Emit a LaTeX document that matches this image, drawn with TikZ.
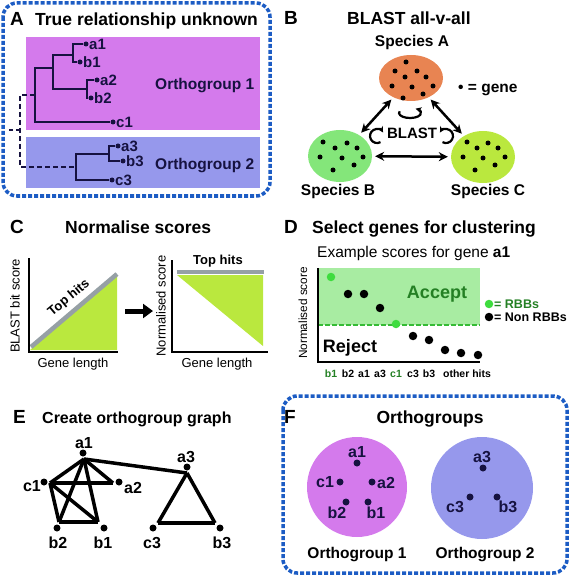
\documentclass[tikz,border=0pt]{standalone}
\usepackage{fontspec}
\setmainfont{Liberation Sans}
\usetikzlibrary{arrows.meta, shapes.geometric, calc}

\definecolor{panelblue}{RGB}{28,92,196}
\definecolor{ogone}{RGB}{212,122,236}
\definecolor{ogtwo}{RGB}{150,152,236}
\definecolor{treeink}{RGB}{22,18,64}
\definecolor{orangeA}{RGB}{232,132,82}
\definecolor{greenB}{RGB}{132,230,122}
\definecolor{limeC}{RGB}{186,232,62}
\definecolor{topgray}{RGB}{150,160,165}
\definecolor{acceptbg}{RGB}{168,236,162}
\definecolor{rbbgreen}{RGB}{62,220,62}
\definecolor{darkgreen}{RGB}{36,128,36}

\begin{document}
\begin{tikzpicture}[
      x=1pt, y=-1pt, >=Stealth,
      panel/.style={draw=panelblue, line width=3.5pt, dash pattern=on 4pt off 2pt, rounded corners=14pt},
      letter/.style={font=\bfseries\fontsize{19}{22}\selectfont, anchor=base west, inner sep=0},
      ttl/.style={font=\bfseries\fontsize{17.5}{20}\selectfont, anchor=base west, inner sep=0},
      sub/.style={font=\bfseries\fontsize{15.5}{18}\selectfont, anchor=base, inner sep=0},
      leaf/.style={circle, fill=treeink, inner sep=0, minimum size=5pt},
      leaflab/.style={font=\bfseries\fontsize{15}{17}\selectfont, text=treeink, anchor=west, inner sep=1pt},
      tree/.style={line width=2pt, draw=treeink},
      gene/.style={circle, fill=black, inner sep=0, minimum size=5pt},
      species/.style={ellipse, minimum width=64pt, inner sep=0},
      dbl/.style={{Stealth[length=9pt,width=9pt]}-{Stealth[length=9pt,width=9pt]}, line width=2.5pt, shorten <=3pt, shorten >=3pt},
      self/.style={-{Stealth[length=6pt,width=6pt]}, line width=2.2pt},
      axis/.style={line width=2.5pt},
      axlab/.style={font=\fontsize{13}{15}\selectfont, inner sep=0},
      score/.style={circle, fill=black, inner sep=0, minimum size=8.5pt},
      rbb/.style={score, fill=rbbgreen},
      tick/.style={font=\bfseries\fontsize{10.5}{12}\selectfont, anchor=base, inner sep=0},
      vtx/.style={circle, fill=black, inner sep=0, minimum size=7pt},
      edge/.style={line width=3.5pt},
      vlab/.style={font=\bfseries\fontsize{16}{18}\selectfont, inner sep=0}
    ]
    \useasboundingbox (0,0) rectangle (570,577);

    % --- Panel A: true relationship ---
    \draw[panel] (3,3) rectangle (270,196);
    \node[letter] (labA) at (10,26) {A};
    \node[ttl] (ttlA) at (35,26) {True relationship unknown};
    \fill[ogone] (26,37) rectangle (260,130);
    \fill[ogtwo] (26,137) rectangle (260,188);
    \node[sub, anchor=base west, text=treeink] (og1A) at (155,90) {Orthogroup 1};
    \node[sub, anchor=base west, text=treeink] (og2A) at (155,170) {Orthogroup 2};

    \foreach \n/\x/\y in {a1/86/44, b1/80/62, a2/97/80, b2/91/98, c1/113/122,
                          a3/118/146, b3/123/161, c3/112/180}
      \node[leaf] (t\n) at (\x,\y) {};
    \foreach \n in {a1,b1,a2,b2,c1,a3,b3,c3}
      \node[leaflab] at ($(t\n)+(2,0)$) {\n};

    \coordinate (p1) at (73,55);
    \coordinate (p2) at (87,89);
    \coordinate (p3) at (53,68);
    \coordinate (p4) at (35,95);
    \coordinate (p5) at (109,154);
    \coordinate (p6) at (76,167);
    \coordinate (p7) at (20,130);
    \coordinate (p8) at (8,130);

    \draw[tree] (ta1) -| (p1) |- (tb1);
    \draw[tree] (ta2) -| (p2) |- (tb2);
    \draw[tree] (p1) -| (p3) |- (p2);
    \draw[tree] (p3) -| (p4) |- (tc1);
    \draw[tree] (ta3) -| (p5) |- (tb3);
    \draw[tree] (p5) -| (p6) |- (tc3);
    \draw[tree, dash pattern=on 5pt off 3pt] (p4) -| (p7) |- (p6);
    \draw[tree, dash pattern=on 4pt off 3pt] (p7) -- (p8);

    % --- Panel B: BLAST all-v-all ---
    \node[letter] (labB) at (284,25) {B};
    \node[ttl] (ttlB) at (347,25) {BLAST all-v-all};
    \node[species, fill=orangeA, minimum height=46pt] (spA) at (411,78) {};
    \node[species, fill=greenB, minimum height=52pt] (spB) at (340,156) {};
    \node[species, fill=limeC, minimum height=52pt] (spC) at (483,157) {};
    \node[sub] (nameA) at (412,47) {Species A};
    \node[sub] (nameB) at (338,196) {Species B};
    \node[sub] (nameC) at (488,196) {Species C};
    \node[sub, anchor=base west] (key) at (458,93) {\textbullet\ = gene};
    \node[sub, font=\bfseries\fontsize{15}{17}\selectfont] (blast) at (412,139) {BLAST};

    \foreach \x/\y in {406/62, 395/71, 417/71, 405/77, 426/77, 392/86, 412/87, 433/86, 423/94, 403/98}
      \node[gene] at (\x,\y) {};
    \foreach \x/\y in {323/142, 347/143, 335/148, 357/148, 320/157, 342/158, 363/157, 354/165, 333/170}
      \node[gene] at (\x,\y) {};
    \foreach \x/\y in {467/142, 488/143, 477/148, 498/148, 463/157, 483/158, 505/157, 495/165, 475/170}
      \node[gene] at (\x,\y) {};

    \draw[dbl] (spA) -- (spB);
    \draw[dbl] (spA) -- (spC);
    \draw[dbl] (spB) -- (spC);

    \coordinate (loopA) at (399.7,111.3);
    \coordinate (loopB) at (380.5,142.1);
    \coordinate (loopC) at (442.5,142.1);
    \draw[self] (loopA) arc[start angle=160, end angle=420, x radius=11pt, y radius=5pt];
    \draw[self] (loopB) arc[start angle=-60, end angle=-330, radius=7pt];
    \draw[self] (loopC) arc[start angle=240, end angle=510, radius=7pt];

    % --- Panel C: normalise scores ---
    \node[letter] (labC) at (10,233) {C};
    \node[ttl] (ttlC) at (65,233) {Normalise scores};

    \fill[limeC] (30,350) -- (117,350) -- (117,275) -- cycle;
    \draw[topgray, line width=4.5pt] (31,347) -- (117,274);
    \draw[axis] (29,258) -- (29,352) -- (118,352);
    \node[axlab, rotate=90] (yC1) at (15,306) {BLAST bit score};
    \node[axlab, anchor=base] (xC1) at (73,367) {Gene length};
    \node[axlab, font=\bfseries\fontsize{13}{15}\selectfont, rotate=40] (topC1) at (69,298) {Top hits};

    \coordinate (arrS) at (125,311);
    \coordinate (arrE) at (153,311);
    \draw[-{Triangle[length=10pt,width=14pt]}, line width=5pt] (arrS) -- (arrE);

    \fill[limeC] (177,275) -- (263,275) -- (263,346) -- cycle;
    \draw[topgray, line width=4.5pt] (177,272) -- (264,272);
    \draw[axis] (172,260) -- (172,352) -- (268,352);
    \node[axlab, rotate=90] (yC2) at (161,306) {Normalised score};
    \node[axlab, anchor=base] (xC2) at (217,367) {Gene length};
    \node[axlab, font=\bfseries\fontsize{13}{15}\selectfont, anchor=base] (topC2) at (218,264) {Top hits};

    % --- Panel D: select genes ---
    \node[letter] (labD) at (284,233) {D};
    \node[ttl] (ttlD) at (312,233) {Select genes for clustering};
    \node[anchor=base west, inner sep=0, font=\fontsize{15.5}{18}\selectfont] (exD) at (317,257) {Example scores for gene \textbf{a1}};

    \fill[acceptbg] (318,268) rectangle (480,325);
    \draw[rbbgreen!85!black, line width=2.5pt, dash pattern=on 5pt off 2pt] (318,325) -- (480,325);
    \draw[axis] (318,268) -- (318,362) -- (480,362);
    \node[inner sep=0, rotate=90, font=\fontsize{11.8}{14}\selectfont] (yD) at (303,313) {Normalised score};
    \node[inner sep=0, anchor=base, font=\bfseries\fontsize{18}{21}\selectfont, text=darkgreen] (acc) at (437,298) {Accept};
    \node[inner sep=0, anchor=base, font=\bfseries\fontsize{18}{21}\selectfont] (rej) at (350,352) {Reject};

    \node[rbb]   (sb1) at (331,277) {};
    \node[score] (sb2) at (348,294) {};
    \node[score] (sa1) at (364,294) {};
    \node[score] (sa3) at (380,308) {};
    \node[rbb]   (sc1) at (396,324) {};
    \node[score] (sc3) at (413,336) {};
    \node[score] (sb3) at (429,340) {};
    \node[score] (so1) at (445,350) {};
    \node[score] (so2) at (461,353) {};
    \node[score] (so3) at (478,355) {};

    \node[tick, text=darkgreen] at (331,377) {b1};
    \node[tick] at (348,377) {b2};
    \node[tick] at (364,377) {a1};
    \node[tick] at (380,377) {a3};
    \node[tick, text=darkgreen] at (396,377) {c1};
    \node[tick] at (413,377) {c3};
    \node[tick] at (429,377) {b3};
    \node[tick] at (467,377) {other hits};

    \node[rbb]   (keyR) at (489,304) {};
    \node[score] (keyN) at (489,317) {};
    \node[inner sep=0, anchor=base west, font=\bfseries\fontsize{12.5}{14}\selectfont, text=darkgreen] at (494,308) {= RBBs};
    \node[inner sep=0, anchor=base west, font=\bfseries\fontsize{12.5}{14}\selectfont] at (494,321) {= Non RBBs};

    % --- Panel E: orthogroup graph ---
    \node[letter] (labE) at (13,423) {E};
    \node[ttl, font=\bfseries\fontsize{16}{18}\selectfont] (ttlE) at (42,423) {Create orthogroup graph};

    \foreach \n/\x/\y/\ex/\ey/\lx/\ly in {a1/83/453/84/459/84/443, c1/44/482/50/483/32/486,
        a2/119/482/113/483/133/488, b2/57/528/59/522/58/543, b1/104/528/98/522/103/543,
        a3/187/467/187/473/186/457, c3/153/528/158/523/152/543, b3/220/528/215/523/222/543}
    {
      \node[vtx] (v\n) at (\x,\y) {};
      \coordinate (e\n) at (\ex,\ey);
      \node[vlab] at (\lx,\ly) {\n};
    }
    \foreach \u/\v in {a1/c1, a1/a2, c1/a2, a1/b2, a1/b1, c1/b2, c1/b1, b2/b1,
                       a1/a3, a3/c3, a3/b3, c3/b3}
      \draw[edge] (e\u) -- (e\v);

    % --- Panel F: orthogroups ---
    \draw[panel] (283,396) rectangle (567,573);
    \node[letter] (labF) at (284,423) {F};
    \node[ttl, anchor=base] (ttlF) at (430,423) {Orthogroups};
    \node[circle, fill=ogone, minimum size=100pt, inner sep=0] (og1) at (357,487) {};
    \node[circle, fill=ogtwo, minimum size=102pt, inner sep=0] (og2) at (482,488) {};
    \node[sub] (og1F) at (357,558) {Orthogroup 1};
    \node[sub] (og2F) at (485,558) {Orthogroup 2};

    \foreach \n/\x/\y/\lx/\ly in {a1/357/463/357/452, c1/340/482/325/482, a2/372/482/386/483,
        b2/346/502/337/513, b1/368/502/376/513, a3/483/468/482/457,
        c3/470/497/455/507, b3/497/497/508/507}
    {
      \node[vtx, fill=treeink] (f\n) at (\x,\y) {};
      \node[vlab, text=treeink] at (\lx,\ly) {\n};
    }

  \end{tikzpicture}
\end{document}
